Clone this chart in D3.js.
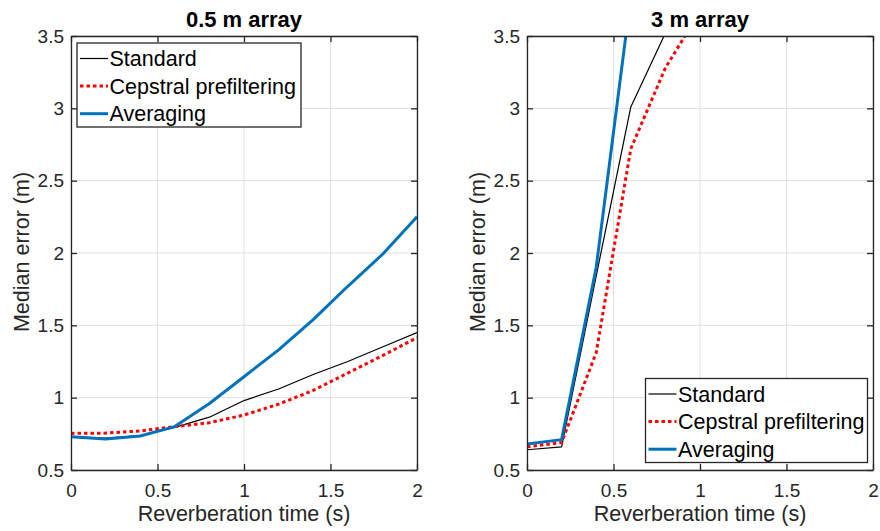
<!DOCTYPE html>
<html>
  <head>
    <script src="https://d3js.org/d3.v7.min.js"></script>
    <style>
      body { margin: 0; background: #fff; font-family: "Liberation Sans", Arial, sans-serif; }
    </style>
  </head>
  <body>
    <svg id="chart" width="880" height="531"></svg>
    <script>
      // values
      var timesLeft = [0, 0.2, 0.4, 0.6, 0.8, 1.0, 1.2, 1.4, 1.6, 1.8, 2.0];
      var standardLeft = [0.73, 0.72, 0.737, 0.795, 0.865, 0.98, 1.06, 1.16, 1.25, 1.35, 1.45];
      var cepstralLeft = [0.753, 0.755, 0.77, 0.8, 0.827, 0.88, 0.955, 1.05, 1.17, 1.29, 1.415];
      var averagingLeft = [0.73, 0.715, 0.735, 0.8, 0.96, 1.145, 1.33, 1.54, 1.77, 1.99, 2.25];

      var timesRight = [0, 0.2, 0.4, 0.6, 0.8, 1.0];
      var standardRight = [0.64, 0.66, 1.84, 3.01, 3.52, 3.9];
      var cepstralRight = [0.66, 0.69, 1.31, 2.72, 3.28, 3.67];
      var averagingRight = [0.68, 0.71, 1.9, 3.77, 4.2, 4.5];

      var xTicks = [0, 0.5, 1, 1.5, 2];
      var yTicks = [0.5, 1, 1.5, 2, 2.5, 3, 3.5];
      var seriesNames = ["Standard", "Cepstral prefiltering", "Averaging"];

      var styles = [
        { color: "#000000", width: 1.2, dash: null },
        { color: "#ff0000", width: 3, dash: "3.5,3" },
        { color: "#0072bd", width: 3, dash: null },
      ];

      var svg = d3.select("#chart");
      var axisColor = "#262626";
      var labelSize = "21.5px";

      function drawPanel(opts) {
        var x = d3.scaleLinear().domain([0, 2]).range([opts.left, opts.right]);
        var y = d3.scaleLinear().domain([0.5, 3.5]).range([470, 36]);
        var g = svg.append("g");

        // grid
        g.selectAll(".gx").data(xTicks).enter().append("line")
          .attr("x1", d => x(d)).attr("x2", d => x(d))
          .attr("y1", 36).attr("y2", 470)
          .attr("stroke", "#dfdfdf").attr("stroke-width", 1);
        g.selectAll(".gy").data(yTicks).enter().append("line")
          .attr("x1", opts.left).attr("x2", opts.right)
          .attr("y1", d => y(d)).attr("y2", d => y(d))
          .attr("stroke", "#dfdfdf").attr("stroke-width", 1);

        var clipId = "clip" + opts.id;
        svg.append("clipPath").attr("id", clipId).append("rect")
          .attr("x", opts.left).attr("y", 36)
          .attr("width", opts.right - opts.left).attr("height", 434);

        var line = d3.line().x(d => x(d[0])).y(d => y(d[1]));
        var lines = g.append("g").attr("clip-path", "url(#" + clipId + ")");
        opts.series.forEach(function (vals, i) {
          var pts = opts.times.map((t, k) => [t, vals[k]]);
          lines.append("path")
            .attr("d", line(pts))
            .attr("fill", "none")
            .attr("stroke", styles[i].color)
            .attr("stroke-width", styles[i].width)
            .attr("stroke-dasharray", styles[i].dash)
            .attr("stroke-linejoin", "round");
        });

        // axes with inward ticks, boxed
        var fmt = d3.format("");
        var bottom = g.append("g").attr("transform", "translate(0,470)")
          .call(d3.axisBottom(x).tickValues(xTicks).tickSizeInner(-6).tickSizeOuter(0).tickPadding(14).tickFormat(fmt));
        var top = g.append("g").attr("transform", "translate(0,36)")
          .call(d3.axisTop(x).tickValues(xTicks).tickSizeInner(-6).tickSizeOuter(0).tickFormat(""));
        var leftAx = g.append("g").attr("transform", "translate(" + opts.left + ",0)")
          .call(d3.axisLeft(y).tickValues(yTicks).tickSizeInner(-6).tickSizeOuter(0).tickPadding(7).tickFormat(fmt));
        var rightAx = g.append("g").attr("transform", "translate(" + opts.right + ",0)")
          .call(d3.axisRight(y).tickValues(yTicks).tickSizeInner(-6).tickSizeOuter(0).tickFormat(""));
        [bottom, top, leftAx, rightAx].forEach(function (a) {
          a.selectAll("path,line").attr("stroke", axisColor).attr("stroke-width", 1.3);
          a.selectAll("text")
            .attr("fill", axisColor)
            .style("font-size", "19px")
            .style("font-family", "Liberation Sans, Arial, sans-serif");
        });

        g.append("text")
          .attr("x", (opts.left + opts.right) / 2).attr("y", 27)
          .attr("text-anchor", "middle")
          .style("font-size", "22px").style("font-weight", "bold")
          .attr("fill", "#000")
          .text(opts.title);

        g.append("text")
          .attr("x", (opts.left + opts.right) / 2).attr("y", 521)
          .attr("text-anchor", "middle")
          .style("font-size", labelSize)
          .attr("fill", axisColor)
          .text("Reverberation time (s)");

        g.append("text")
          .attr("transform", "translate(" + (opts.left - 42) + "," + 252 + ") rotate(-90)")
          .attr("text-anchor", "middle")
          .style("font-size", labelSize)
          .attr("fill", axisColor)
          .text("Median error (m)");

        // legend
        var lg = g.append("g").attr("transform", "translate(" + opts.legend[0] + "," + opts.legend[1] + ")");
        lg.append("rect")
          .attr("width", opts.legend[2]).attr("height", 84)
          .attr("fill", "#fff").attr("stroke", axisColor).attr("stroke-width", 1.3);
        seriesNames.forEach(function (name, i) {
          var yy = 15.5 + i * 27.6;
          lg.append("line")
            .attr("x1", 3).attr("x2", 31).attr("y1", yy).attr("y2", yy)
            .attr("stroke", styles[i].color)
            .attr("stroke-width", styles[i].width)
            .attr("stroke-dasharray", styles[i].dash);
          lg.append("text")
            .attr("x", 32.5).attr("y", yy + 7.5)
            .style("font-size", labelSize)
            .attr("fill", "#000")
            .text(name);
        });
      }

      drawPanel({
        id: "L", left: 71, right: 417, title: "0.5 m array",
        times: timesLeft, series: [standardLeft, cepstralLeft, averagingLeft],
        legend: [77, 43, 224],
      });
      drawPanel({
        id: "R", left: 527, right: 873, title: "3 m array",
        times: timesRight, series: [standardRight, cepstralRight, averagingRight],
        legend: [645.5, 378.5, 222],
      });
    </script>
  </body>
</html>
